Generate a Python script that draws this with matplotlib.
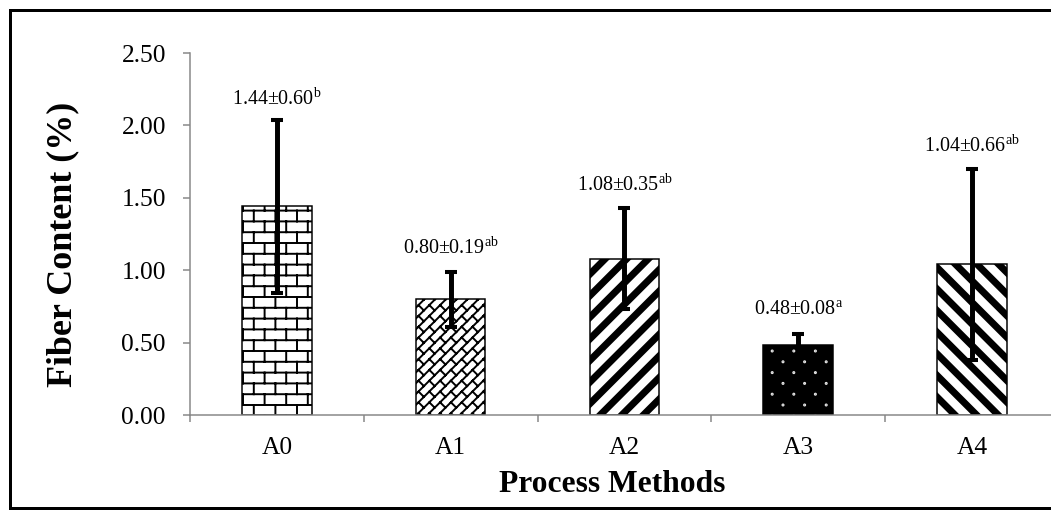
import numpy as np
import matplotlib
matplotlib.use('Agg')
import matplotlib.pyplot as plt
from matplotlib import hatch as mhatch
from matplotlib.path import Path
from matplotlib.lines import Line2D

# ---------------- data ----------------
categories = ['A0', 'A1', 'A2', 'A3', 'A4']
means = [1.44, 0.80, 1.08, 0.48, 1.04]
sds = [0.60, 0.19, 0.35, 0.08, 0.66]
letters = ['b', 'ab', 'ab', 'a', 'ab']
label_y = [2.14, 1.11, 1.55, 0.70, 1.82]
yticks = [0.0, 0.5, 1.0, 1.5, 2.0, 2.5]
ytick_labels = ['0.00', '0.50', '1.00', '1.50', '2.00', '2.50']
xlabel = 'Process Methods'
ylabel = 'Fiber Content (%)'

# ---------------- custom hatch patterns ----------------
mhatch._validate_hatch_pattern = lambda h: None


def _seg(v, c, p0, p1):
    v.extend([p0, p1])
    c.extend([Path.MOVETO, Path.LINETO])


def _poly(v, c, pts):
    v.extend(pts + [pts[0]])
    c.extend([Path.MOVETO] + [Path.LINETO] * (len(pts) - 1) + [Path.CLOSEPOLY])


def brick():
    v, c = [], []
    for k in range(-1, 11):
        y0 = (k + 0.5) / 10.0
        _seg(v, c, (-0.1, y0), (1.1, y0))
        off = 0.5 * (k % 2)
        for i in range(-1, 6):
            xx = (i + off + 0.25) / 5.0
            _seg(v, c, (xx, y0), (xx, y0 + 0.1))
    return v, c


def diag_brick():
    v, c = [], []
    n = 10
    for k in range(-n - 1, n + 2):
        cc = k / n
        _seg(v, c, (-0.2, -0.2 + cc), (1.2, 1.2 + cc))
    for i in range(-2, n + 2):
        for j in range(-2, n + 2):
            p = (i / n + 0.025, j / n + 0.025)
            _seg(v, c, p, (p[0] - 0.5 / n, p[1] + 0.5 / n))
    return v, c


H = 0.033


def ne_stripes():
    v, c = [], []
    for k in range(-6, 7):
        cc = k / 5.0
        _poly(v, c, [(-0.2, -0.2 + cc - H), (1.2, 1.2 + cc - H),
                     (1.2, 1.2 + cc + H), (-0.2, -0.2 + cc + H)])
    return v, c


def se_stripes():
    v, c = [], []
    for k in range(-1, 13):
        cc = k / 5.0
        _poly(v, c, [(-0.2, 0.2 + cc - H), (1.2, -1.2 + cc - H),
                     (1.2, -1.2 + cc + H), (-0.2, 0.2 + cc + H)])
    return v, c


def dots():
    v, c = [], []
    uc = Path.unit_circle()
    r = 0.005
    for j in range(-1, 11):
        for i in range(-1, 6):
            cx = i / 5.0 + 0.1 * (j % 2) + 0.05
            cy = j / 10.0 + 0.05
            v.extend([tuple(p) for p in uc.vertices * r + (cx, cy)])
            c.extend(list(uc.codes))
    return v, c


def make_hatch(char, builder):
    class _H(mhatch.HatchPatternBase):
        def __init__(self, hatch, density):
            if hatch is not None and char in hatch:
                v, c = builder()
                self._v = np.array(v, float)
                self._c = np.array(c, dtype=Path.code_type)
                self.num_vertices = len(self._v)
            else:
                self.num_vertices = 0

        def set_vertices_and_codes(self, vertices, codes):
            vertices[:] = self._v
            codes[:] = self._c
    return _H


for ch, fn in [('B', brick), ('D', diag_brick), ('N', ne_stripes),
               ('S', se_stripes), ('P', dots)]:
    mhatch._hatch_types.append(make_hatch(ch, fn))

bar_hatches = ['B', 'D', 'N', 'P', 'S']
bar_faces = ['white', 'white', 'white', 'black', 'white']
hatch_colors = ['black', 'black', 'black', '#e8e8e8', 'black']

# ---------------- figure ----------------
plt.rcParams['font.family'] = ['Liberation Serif', 'DejaVu Serif']
plt.rcParams['mathtext.fontset'] = 'custom'
plt.rcParams['mathtext.rm'] = 'Liberation Serif'
plt.rcParams['mathtext.it'] = 'Liberation Serif:italic'
plt.rcParams['mathtext.bf'] = 'Liberation Serif:bold'
plt.rcParams['hatch.linewidth'] = 1.3

DPI = 108
W, Hpx = 1051, 510
fig = plt.figure(figsize=(W / DPI, Hpx / DPI), dpi=DPI)
fig.patch.set_facecolor('white')

ax_left, ax_right, ax_top, ax_bot = 190, 190 + 5 * 173.75, 53, 415
ax = fig.add_axes([ax_left / W, (Hpx - ax_bot) / Hpx,
                   (ax_right - ax_left) / W, (ax_bot - ax_top) / Hpx])

x = np.arange(len(categories))
bars = ax.bar(x, means, width=0.4, color=bar_faces, edgecolor=hatch_colors,
              linewidth=0, zorder=2)
for b, h in zip(bars, bar_hatches):
    b.set_hatch(h)
ax.bar(x, means, width=0.4, fill=False, edgecolor='black', linewidth=1.0,
       zorder=2.5)

ax.errorbar(x, means, yerr=sds, fmt='none', ecolor='black', elinewidth=3.3,
            capsize=4, capthick=2.7, zorder=3)

for xi, m, s, l, ly in zip(x, means, sds, letters, label_y):
    ax.text(xi, ly, f'{m:.2f}±{s:.2f}' + r'$^{\mathrm{' + l + '}}$',
            ha='center', va='baseline', fontsize=13.3, zorder=4)

gray = '#868686'
ax.set_xlim(-0.5, 4.5)
ax.set_ylim(0, 2.5)
ax.set_yticks(yticks, ytick_labels)
ax.set_xticks(x, categories)
ax.set_xticks(np.arange(-0.5, len(categories), 1.0), minor=True)
ax.tick_params(axis='y', direction='out', length=4.7, width=1.0, color=gray,
               pad=11.3, labelsize=17)
ax.tick_params(axis='x', which='major', length=0, pad=14.5, labelsize=17)
ax.tick_params(axis='x', which='minor', direction='out', length=4.7,
               width=1.0, color=gray)
for sp in ['top', 'right']:
    ax.spines[sp].set_visible(False)
for sp in ['left', 'bottom']:
    ax.spines[sp].set_color(gray)
    ax.spines[sp].set_linewidth(1.0)

ax.set_xlabel(xlabel, fontsize=21, fontweight='bold')
ax.xaxis.set_label_coords((612 - ax_left) / (ax_right - ax_left),
                          (ax_bot - 470) / (ax_bot - ax_top))
ax.set_ylabel(ylabel, fontsize=24, fontweight='bold')
ax.yaxis.set_label_coords((79 - ax_left) / (ax_right - ax_left),
                          (ax_bot - 244) / (ax_bot - ax_top))

# outer frame (cropped on the right)
fx = lambda px: px / W
fy = lambda py: (Hpx - py) / Hpx
fig.add_artist(Line2D([fx(1100), fx(9.5), fx(9.5), fx(1100)],
                      [fy(9.5), fy(9.5), fy(507.5), fy(507.5)],
                      transform=fig.transFigure, color='black', lw=2.0,
                      solid_joinstyle='miter'))

fig.savefig('out.png', dpi=DPI, facecolor='white')
